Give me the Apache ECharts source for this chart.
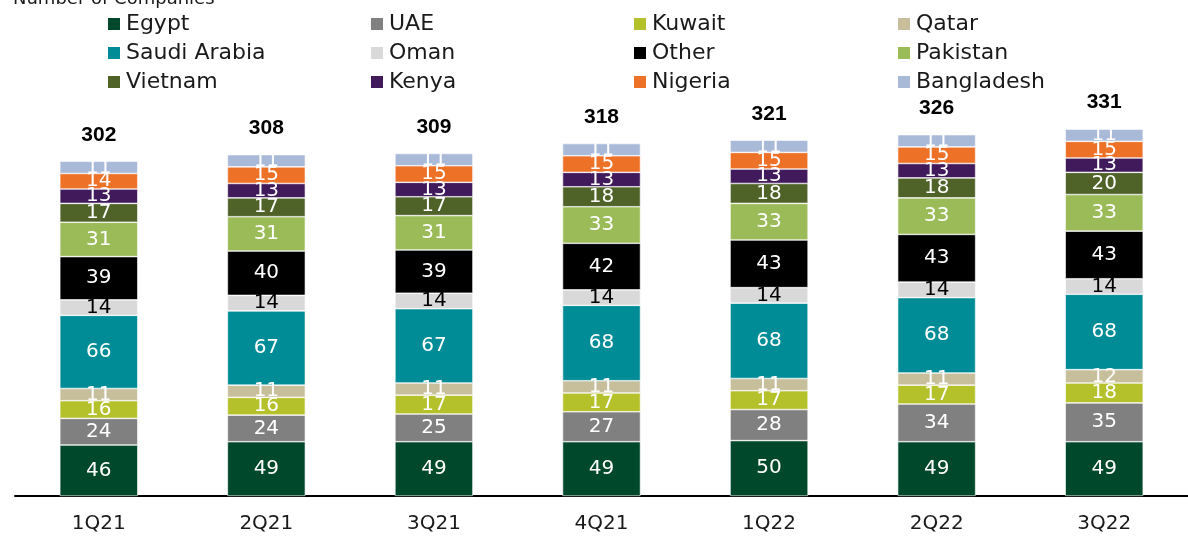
<!DOCTYPE html>
<html>
<head>
<meta charset="utf-8">
<script src="https://cdn.jsdelivr.net/npm/echarts@6/dist/echarts.min.js"></script>
<style>
html,body{margin:0;padding:0;background:#fff;}
#chart{width:1188px;height:538px;}
</style>
</head>
<body>
<div id="chart"></div>
<script>
var quarters=['1Q21','2Q21','3Q21','4Q21','1Q22','2Q22','3Q22'];
var egypt=[46,49,49,49,50,49,49];
var uae=[24,24,25,27,28,34,35];
var kuwait=[16,16,17,17,17,17,18];
var qatar=[11,11,11,11,11,11,12];
var saudi=[66,67,67,68,68,68,68];
var oman=[14,14,14,14,14,14,14];
var other=[39,40,39,42,43,43,43];
var pakistan=[31,31,31,33,33,33,33];
var vietnam=[17,17,17,18,18,18,20];
var kenya=[13,13,13,13,13,13,13];
var nigeria=[14,15,15,15,15,15,15];
var bangladesh=[11,11,11,11,11,11,11];
var totals=[302,308,309,318,321,326,331];

var FONT='DejaVu Sans';

var countries=[
    {name:'Egypt',data:egypt,color:'#00482B'},
    {name:'UAE',data:uae,color:'#808080'},
    {name:'Kuwait',data:kuwait,color:'#B4C12A'},
    {name:'Qatar',data:qatar,color:'#C7BE9B'},
    {name:'Saudi Arabia',data:saudi,color:'#008C96'},
    {name:'Oman',data:oman,color:'#D9D9D9',text:'#000'},
    {name:'Other',data:other,color:'#000000'},
    {name:'Pakistan',data:pakistan,color:'#9BBB59'},
    {name:'Vietnam',data:vietnam,color:'#4F6228'},
    {name:'Kenya',data:kenya,color:'#401A5B'},
    {name:'Nigeria',data:nigeria,color:'#EE7128'},
    {name:'Bangladesh',data:bangladesh,color:'#A9B9D8'}
];

var series=countries.map(function(c){
    return {
        name:c.name,
        type:'bar',
        stack:'all',
        barWidth:78,
        data:c.data,
        itemStyle:{color:c.color,borderColor:'#fff',borderWidth:0.6},
        label:{
            show:true,
            position:'inside',
            color:c.text||'#fff',
            fontFamily:FONT,
            fontSize:20
        }
    };
});

// total labels on top of the stacks
series.push({
    name:'Total',
    type:'bar',
    stack:'all',
    barWidth:78,
    data:totals.map(function(){return 0;}),
    itemStyle:{color:'transparent'},
    label:{
        show:true,
        position:'top',
        distance:16,
        formatter:function(p){return totals[p.dataIndex];},
        color:'#000',
        fontFamily:'Liberation Sans',
        fontWeight:'bold',
        fontSize:21
    },
    tooltip:{show:false}
});

var cols=[
    ['Egypt','Saudi Arabia','Vietnam'],
    ['UAE','Oman','Kenya'],
    ['Kuwait','Other','Nigeria'],
    ['Qatar','Pakistan','Bangladesh']
];
var colLeft=[101,364,627,891];
var legends=cols.map(function(names,i){
    return {
        data:names,
        orient:'vertical',
        left:colLeft[i],
        top:8,
        itemWidth:14,
        itemHeight:14,
        itemGap:7,
        icon:'rect',
        textStyle:{fontFamily:FONT,fontSize:22,color:'#1a1a1a',padding:[0,0,0,0]},
        selectedMode:false
    };
});

var chart=echarts.init(document.getElementById('chart'));
chart.setOption({
    animation:false,
    title:{
        text:'Number of Companies',
        left:8,
        top:-15,
        textStyle:{fontFamily:FONT,fontSize:18,fontWeight:'normal',color:'#1a1a1a'}
    },
    legend:legends,
    grid:{left:15,right:-14,top:97,bottom:42},
    xAxis:{
        type:'category',
        data:quarters,
        axisLine:{lineStyle:{color:'#000',width:2}},
        axisTick:{show:false},
        axisLabel:{fontFamily:FONT,fontSize:20,color:'#1a1a1a',margin:18}
    },
    yAxis:{
        type:'value',
        min:0,
        max:360,
        show:false,
        splitLine:{show:false}
    },
    series:series
});
</script>
</body>
</html>
